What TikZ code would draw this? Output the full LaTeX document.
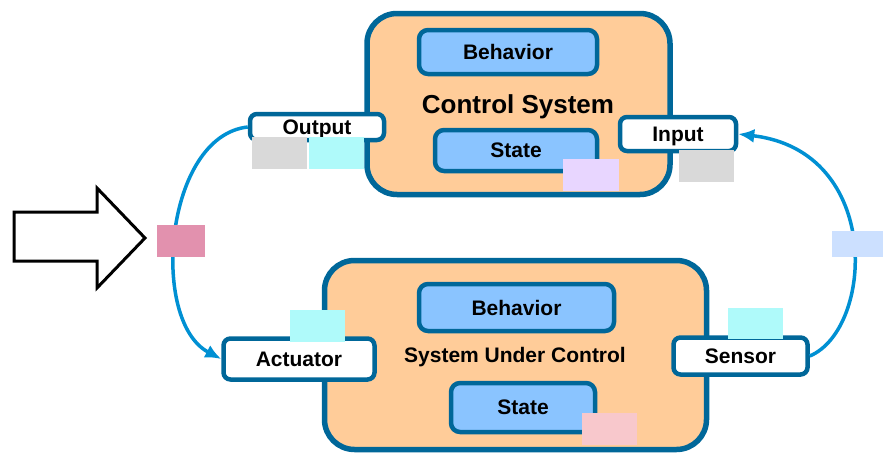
\documentclass[tikz,border=0pt]{standalone}
\usepackage{fontspec}
\setmainfont{Liberation Sans}
\usepackage{tikz}
\usetikzlibrary{positioning, arrows.meta}
\definecolor{borde}{RGB}{0,103,153}
\definecolor{durazno}{RGB}{255,204,153}
\definecolor{celeste}{RGB}{138,196,255}
\definecolor{flujo}{RGB}{0,144,211}
\definecolor{gris}{RGB}{217,217,217}
\definecolor{cian}{RGB}{175,250,250}
\definecolor{lavanda}{RGB}{232,214,255}
\definecolor{rosa}{RGB}{248,200,204}
\definecolor{rosaosc}{RGB}{226,145,174}
\definecolor{azulclaro}{RGB}{204,224,255}
\tikzset{arco/.style={line width=3.5pt, draw=flujo, -{Latex[length=16pt,width=14pt]}}}
\tikzset{sistema/.style={draw=borde, fill=durazno, line width=5.5pt, rounded corners=30pt, inner sep=0pt}}
\tikzset{bloque/.style={draw=borde, fill=celeste, line width=4.5pt, rounded corners=9pt, inner sep=0pt, font=\fontsize{21}{25}\selectfont\bfseries}}
\tikzset{puerto/.style={draw=borde, fill=white, line width=4.5pt, rounded corners=7pt, inner sep=0pt, text depth=0pt, font=\fontsize{21}{25}\selectfont\bfseries}}
\tikzset{etiqueta/.style={anchor=north west, inner sep=0pt}}

\begin{document}
\begin{tikzpicture}[
            x = 1pt, y = -1pt
        ]
            \useasboundingbox (0,0) rectangle (883,455);

            % sistema de control
            \node[sistema, minimum width=303, minimum height=181] (cs) at (518.5,104) {};
            \node[font=\fontsize{26}{30}\selectfont\bfseries] (cstit) at (518,107) {Control System};
            \node[bloque, minimum width=178, minimum height=44] (csbeh) at (508,52) {Behavior};
            \node[bloque, minimum width=162, minimum height=41] (csstate) at (516,150.5) {State};
            \node[puerto, minimum width=134, minimum height=26] (out) at (317,127) {Output};
            \node[puerto, minimum width=116, minimum height=34] (in) at (678,134) {Input};

            % sistema bajo control
            \node[sistema, minimum width=382, minimum height=189] (suc) at (515.5,355) {};
            \node[font=\fontsize{21}{25}\selectfont\bfseries] (suctit) at (515,357) {System Under Control};
            \node[bloque, minimum width=195, minimum height=47] (sucbeh) at (516.5,307.5) {Behavior};
            \node[bloque, minimum width=144, minimum height=49] (sucstate) at (523,407.5) {State};
            \node[puerto, minimum width=151, minimum height=41] (act) at (299,359) {Actuator};
            \node[puerto, minimum width=134, minimum height=37] (sen) at (740.5,356) {Sensor};

            \draw[arco] (out.west) .. controls +(-83,9) and +(-72,-38) .. (act.west);
            \draw[arco] (sen.east) .. controls +(64,-27) and +(145,17) .. (in.east);

            % flecha de entrada
            \draw[line width=3pt, line join=miter, fill=white]
                (14,212) -- (97,212) -- (97,188) -- (145,238) -- (97,288) -- (97,261) -- (14,261) -- cycle;

            % etiquetas
            \node[etiqueta, fill=gris, minimum width=55, minimum height=32] (e1) at (252,137) {};
            \node[etiqueta, fill=cian, minimum width=55, minimum height=32] (e2) at (309,137) {};
            \node[etiqueta, fill=lavanda, minimum width=56, minimum height=32] (e3) at (563,159) {};
            \node[etiqueta, fill=gris, minimum width=55, minimum height=32] (e4) at (679,150) {};
            \node[etiqueta, fill=azulclaro, minimum width=51, minimum height=26] (e5) at (832,231) {};
            \node[etiqueta, fill=cian, minimum width=55, minimum height=31] (e6) at (728,308) {};
            \node[etiqueta, fill=cian, minimum width=55, minimum height=32] (e7) at (290,310) {};
            \node[etiqueta, fill=rosa, minimum width=55, minimum height=32] (e8) at (582,413) {};
            \node[etiqueta, fill=rosaosc, minimum width=48, minimum height=32] (e9) at (157,225) {};
        \end{tikzpicture}
\end{document}
